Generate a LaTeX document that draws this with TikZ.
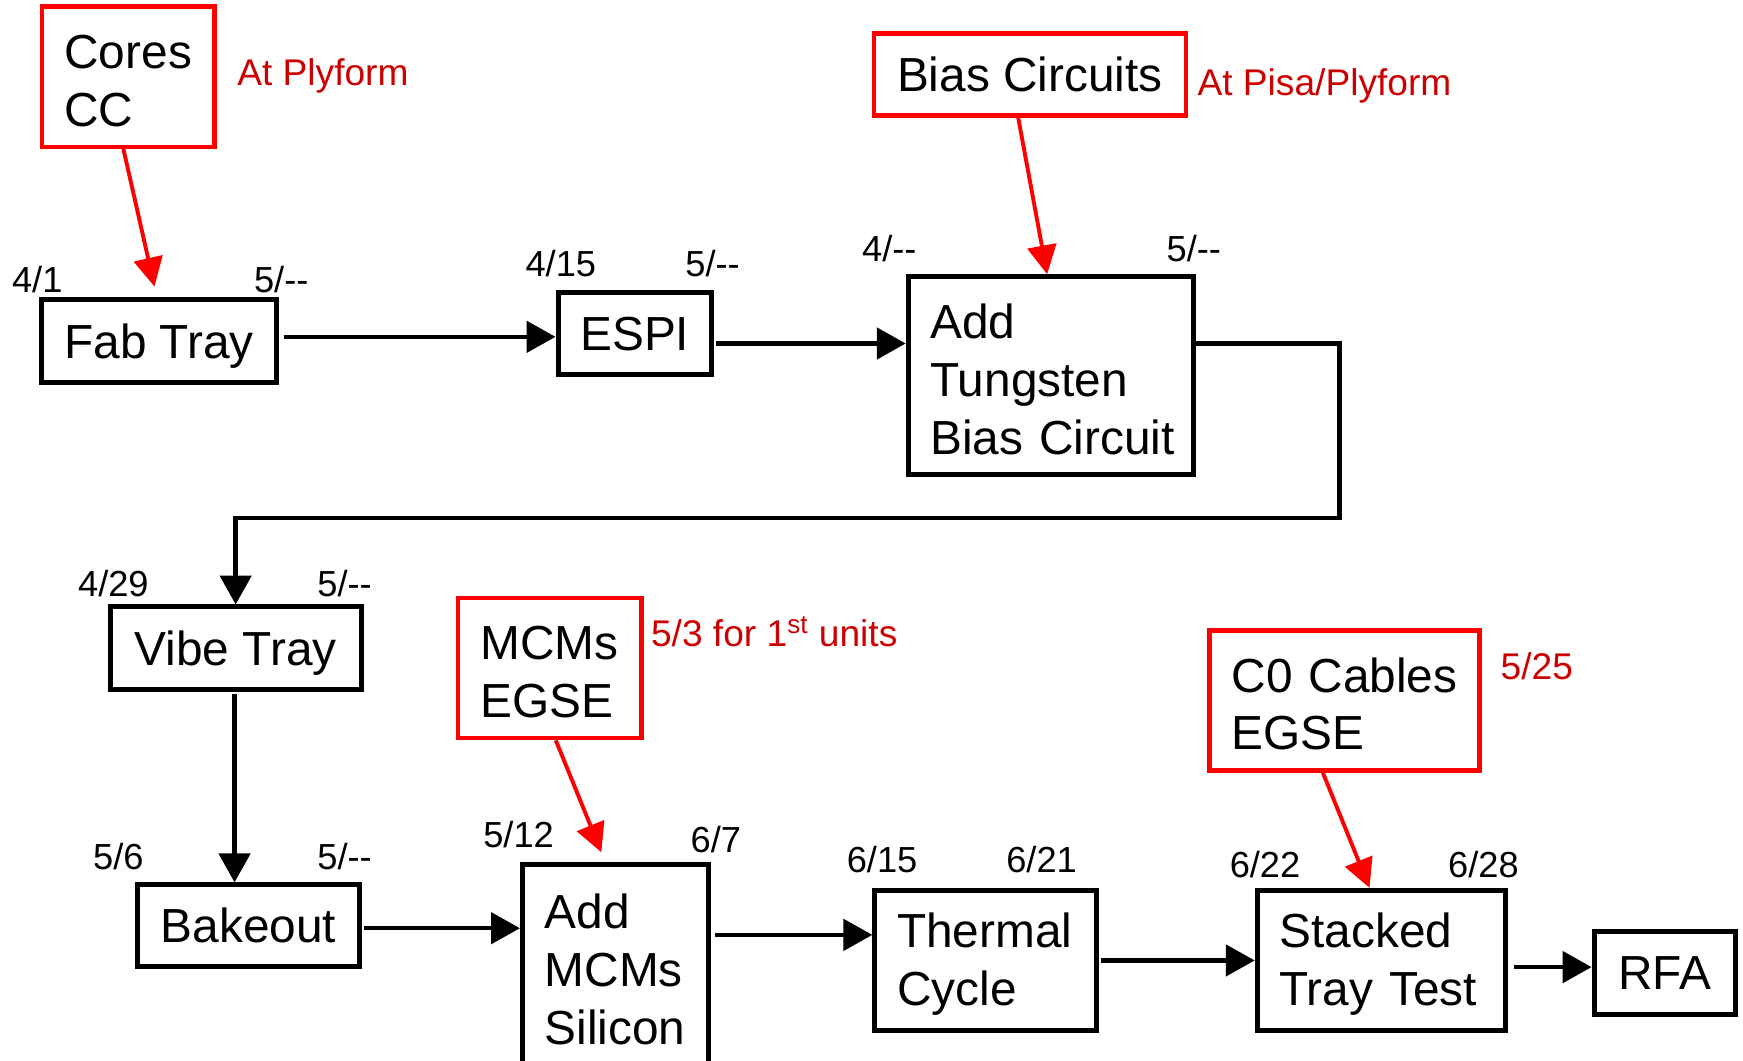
\documentclass[tikz,border=0pt]{standalone}
\usepackage{fontspec}
\setmainfont{Liberation Sans}
\usetikzlibrary{arrows.meta}
\definecolor{rtext}{RGB}{204,0,0}
\definecolor{rline}{RGB}{255,0,0}
\newcommand{\firstln}{\rule{0pt}{18.8pt}}
\begin{document}
\begin{tikzpicture}[x=0.5pt,y=-0.5pt,
  bx/.style 2 args={draw, line width=2.25pt, minimum width=#1*0.5pt, minimum height=#2*0.5pt,
     inner sep=0pt, font=\fontsize{21.5}{26}\selectfont},
  sbx/.style 2 args={bx={#1}{#2}, text depth=0pt},
  lbx/.style 2 args={bx={#1}{#2}, text width=(#1-40)*0.5pt, align=left},
  rbx/.style 2 args={lbx={#1}{#2}, draw=rline, line width=2pt},
  rcbx/.style 2 args={sbx={#1}{#2}, draw=rline, line width=2pt},
  dt/.style={anchor=base, font=\fontsize{16.3}{19}\selectfont, inner sep=0pt},
  rt/.style={anchor=base, font=\fontsize{16.7}{20}\selectfont, text=rtext, inner sep=0pt},
  arr/.style={line width=2pt, -{Triangle[length=13pt,width=14pt]}},
  rarr/.style={line width=1.75pt, draw=rline, -{Triangle[length=13pt,width=13pt]}, color=rline},
]
\useasboundingbox (0,0) rectangle (1568,954);

% main boxes
\node[rbx={155}{126}] (cores) at (115.5,69) {\mbox{\firstln Cores}\\\mbox{CC}};
\node[sbx={212}{75}] (fab) at (143,306.5) {Fab Tray};
\node[sbx={138}{74}] (espi) at (571,300) {ESPI};
\node[lbx={257}{178}] (addt) at (945.5,338) {\mbox{\firstln Add}\\\mbox{Tungsten}\\\mbox{Bias Circuit}};
\node[rcbx={281}{74}] (bias) at (926.5,67) {Bias Circuits};
\node[sbx={226}{74}] (vibe) at (212,583) {Vibe Tray};
\node[sbx={199}{73}] (bake) at (223.5,832.5) {Bakeout};
\node[lbx={167}{182}] (addm) at (553.5,869) {\mbox{\firstln Add}\\\mbox{MCMs}\\\mbox{Silicon}};
\node[rbx={165}{126}] (mcms) at (494.5,601) {\mbox{\firstln MCMs}\\\mbox{EGSE}};
\node[lbx={199}{126}] (therm) at (886.5,864) {\mbox{\firstln Thermal}\\\mbox{Cycle}};
\node[lbx={223}{126}] (stack) at (1242.5,864) {\mbox{\firstln Stacked}\\\mbox{Tray Test}};
\node[rbx={243}{126}] (czero) at (1209.5,630) {\mbox{\firstln C0 Cables}\\\mbox{EGSE}};
\node[sbx={127}{75}] (rfa) at (1497.5,875.5) {RFA};

% red notes
\node[rt] (n1) at (290.5,77) {At Plyform};
\node[rt] (n2) at (1191.5,86) {At Pisa/Plyform};
\node[rt] (n3) at (696.5,582) {5/3 for 1\textsuperscript{st} units};
\node[rt] (n4) at (1382.5,611) {5/25};

% dates
\node[dt] (d1) at (33.5,263) {4/1};
\node[dt] (d2) at (253,263) {5/-{}-};
\node[dt] (d3) at (504.5,249) {4/15};
\node[dt] (d4) at (641,249) {5/-{}-};
\node[dt] (d5) at (800,235) {4/-{}-};
\node[dt] (d6) at (1074,235) {5/-{}-};
\node[dt] (d7) at (102,537) {4/29};
\node[dt] (d8) at (310,537) {5/-{}-};
\node[dt] (d9) at (106.5,782) {5/6};
\node[dt] (d10) at (310,782) {5/-{}-};
\node[dt] (d11) at (466.5,762) {5/12};
\node[dt] (d12) at (644,767) {6/7};
\node[dt] (d13) at (793.5,785) {6/15};
\node[dt] (d14) at (937,785) {6/21};
\node[dt] (d15) at (1138,789) {6/22};
\node[dt] (d16) at (1334.5,789) {6/28};

% black connectors
\draw[arr, shorten <=2pt] ([yshift=1.75pt]fab.east) -- ([yshift=1.75pt]fab.east -| espi.west);
\draw[arr, shorten <=1pt] ([yshift=-4.5pt]espi.east) -- ([yshift=-4.5pt]espi.east -| addt.west);
\coordinate (turn) at (1205,466);
\draw[arr, line join=miter] ([yshift=14.5pt]addt.east) -| (turn) -| (vibe.north);
\draw[arr, shorten <=1pt] ([xshift=-0.5pt]vibe.south) -- ([xshift=-0.5pt]vibe.south |- bake.north);
\draw[arr, shorten <=1pt] ([yshift=-1.25pt]bake.east) -- ([yshift=-1.25pt]bake.east -| addm.west);
\draw[arr, shorten <=2pt] ([yshift=14pt]addm.east) -- ([yshift=14pt]addm.east -| therm.west);
\draw[arr, shorten <=1pt] (therm.east) -- (therm.east -| stack.west);
\draw[arr, shorten <=3pt] ([yshift=-3pt]stack.east) -- ([yshift=-3pt]stack.east -| rfa.west);

% red connectors
\draw[rarr] ([xshift=-2.25pt]cores.south) -- ([xshift=-2pt,yshift=4.5pt]fab.north);
\draw[rarr] ([xshift=-5.25pt]bias.south) -- ([xshift=-1.75pt]addt.north);
\draw[rarr] ([xshift=2.75pt]mcms.south) -- ([xshift=-6.25pt,yshift=4.5pt]addm.north);
\draw[rarr] ([xshift=-9.75pt]czero.south) -- ([xshift=-5.25pt]stack.north);
\end{tikzpicture}
\end{document}
